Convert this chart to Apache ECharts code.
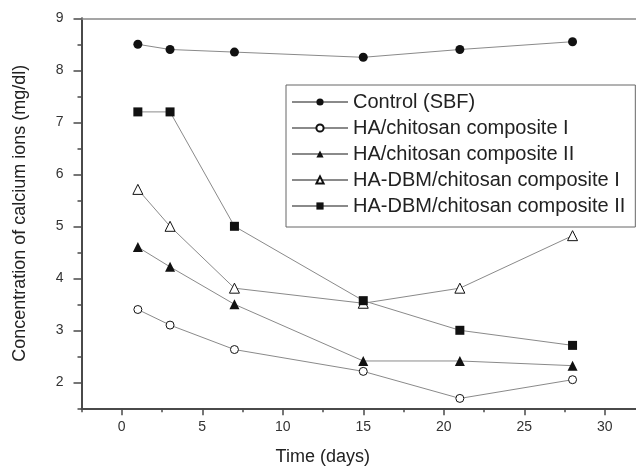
<!DOCTYPE html>
<html>
<head>
<meta charset="utf-8">
<script src="https://cdn.jsdelivr.net/npm/echarts@6/dist/echarts.min.js"></script>
<style>
html,body{margin:0;padding:0;background:#fff;}
#main{width:636px;height:469px;}
</style>
</head>
<body>
<div id="main"></div>
<script>
// 数据
var days = [1, 3, 7, 15, 21, 28];
var control = [8.5, 8.4, 8.35, 8.25, 8.4, 8.55];
var haChitosanI = [3.4, 3.1, 2.63, 2.21, 1.69, 2.05];
var haChitosanII = [4.6, 4.22, 3.5, 2.41, 2.41, 2.32];
var haDbmI = [5.71, 5.0, 3.81, 3.52, 3.81, 4.82];
var haDbmII = [7.2, 7.2, 5.0, 3.57, 3.0, 2.71];
var seriesNames = ['Control (SBF)', 'HA/chitosan composite I', 'HA/chitosan composite II',
	'HA-DBM/chitosan composite I', 'HA-DBM/chitosan composite II'];

// 刻度
var xMajor = [0, 5, 10, 15, 20, 25, 30];
var xMinor = [-2.5, 2.5, 7.5, 12.5, 17.5, 22.5, 27.5, 32.5];
var yMajor = [2, 3, 4, 5, 6, 7, 8, 9];
var yMinor = [1.5, 2.5, 3.5, 4.5, 5.5, 6.5, 7.5, 8.5];

var font = "'Liberation Sans', Arial, sans-serif";
var axisColor = '#4a4a4a';
var lineColor = '#8a8a8a';
var markColor = '#111';

function pairs(ys){
	return days.map(function(d, i){ return [d, ys[i]]; });
}

function mkSeries(name, ys, symbol, size, filled){
	return {
		name: name,
		type: 'line',
		data: pairs(ys),
		symbol: symbol,
		symbolSize: size,
		showAllSymbol: true,
		lineStyle: { color: lineColor, width: 1 },
		itemStyle: {
			color: filled ? markColor : '#fff',
			borderColor: markColor,
			borderWidth: filled ? 0 : 1
		},
		emphasis: { disabled: true },
		z: 3
	};
}

var myChart = echarts.init(document.getElementById('main'));
var option = {
	animation: false,
	backgroundColor: '#fff',
	grid: {
		left: 81.5,
		top: 18.3,
		right: -9,
		bottom: 60.7,
		outerBoundsMode: 'none'
	},
	legend: {
		orient: 'vertical',
		left: 286,
		top: 85,
		padding: [7, 10, 11, 5],
		itemWidth: 56,
		itemHeight: 9,
		itemGap: 6,
		borderColor: '#666',
		borderWidth: 1,
		backgroundColor: '#fff',
		textStyle: { fontFamily: font, fontSize: 20, lineHeight: 20, color: '#222' },
		data: seriesNames
	},
	xAxis: [
		{
			type: 'value',
			min: -2.5,
			max: 32.5,
			position: 'bottom',
			name: 'Time (days)',
			nameLocation: 'middle',
			nameGap: 40,
			nameTextStyle: { fontFamily: font, fontSize: 18, color: '#222', padding: [0, 81, 0, 0] },
			splitLine: { show: false },
			axisLine: { onZero: false, lineStyle: { color: axisColor, width: 2 } },
			axisTick: { customValues: xMajor, length: 7, lineStyle: { color: axisColor, width: 1.5 } },
			axisLabel: { customValues: xMajor, margin: 12, fontFamily: font, fontSize: 14, color: '#333' }
		},
		{
			type: 'value',
			min: -2.5,
			max: 32.5,
			position: 'bottom',
			splitLine: { show: false },
			axisLine: { show: false, onZero: false },
			axisTick: { customValues: xMinor, length: 4, lineStyle: { color: axisColor, width: 1.5 } },
			axisLabel: { show: false }
		},
		{
			type: 'value',
			min: -2.5,
			max: 32.5,
			position: 'top',
			splitLine: { show: false },
			axisLine: { onZero: false, lineStyle: { color: '#888', width: 1.5 } },
			axisTick: { show: false },
			axisLabel: { show: false }
		}
	],
	yAxis: [
		{
			type: 'value',
			min: 1.5,
			max: 9,
			position: 'left',
			name: 'Concentration of calcium ions (mg/dl)',
			nameLocation: 'middle',
			nameGap: 52,
			nameTextStyle: { fontFamily: font, fontSize: 18, color: '#222' },
			splitLine: { show: false },
			axisLine: { onZero: false, lineStyle: { color: axisColor, width: 2 } },
			axisTick: { customValues: yMajor, length: 8, lineStyle: { color: axisColor, width: 1.5 } },
			axisLabel: { customValues: yMajor, margin: 18, fontFamily: font, fontSize: 14, color: '#333' }
		},
		{
			type: 'value',
			min: 1.5,
			max: 9,
			position: 'left',
			splitLine: { show: false },
			axisLine: { show: false, onZero: false },
			axisTick: { customValues: yMinor, length: 4, lineStyle: { color: axisColor, width: 1.5 } },
			axisLabel: { show: false }
		}
	],
	series: [
		mkSeries(seriesNames[0], control, 'circle', 9, true),
		mkSeries(seriesNames[1], haChitosanI, 'circle', 8, false),
		mkSeries(seriesNames[2], haChitosanII, 'triangle', 10, true),
		mkSeries(seriesNames[3], haDbmI, 'triangle', 10, false),
		mkSeries(seriesNames[4], haDbmII, 'rect', 9, true)
	]
};
myChart.setOption(option);
</script>
</body>
</html>
